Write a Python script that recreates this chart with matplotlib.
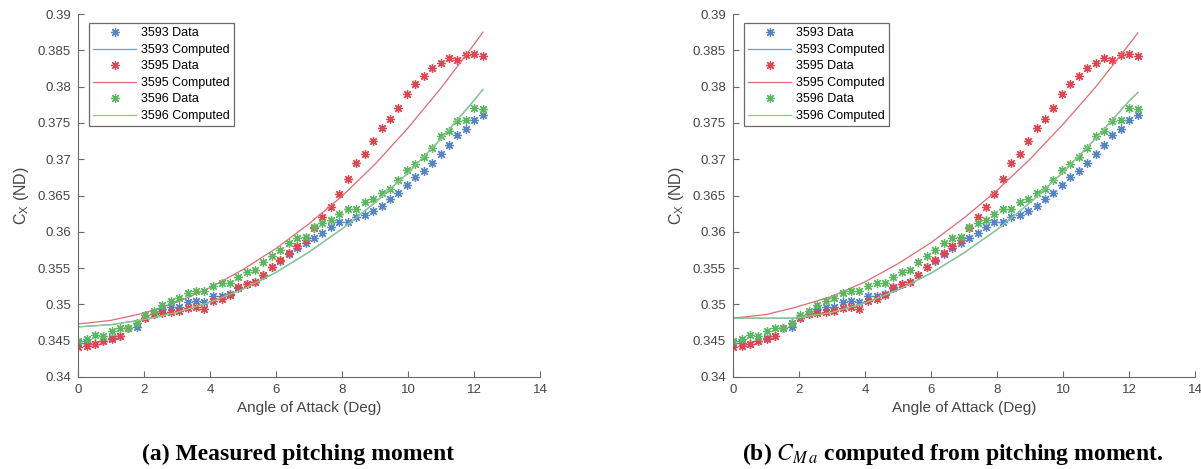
import matplotlib
matplotlib.use("Agg")
from matplotlib import pyplot as plt

plt.rcParams['font.family'] = ['Liberation Sans', 'DejaVu Sans']
plt.rcParams['mathtext.fontset'] = 'stix'

# angle of attack for the wind tunnel points (deg)
alpha = [0.00, 0.26, 0.51, 0.77, 1.02, 1.28, 1.53, 1.79, 2.04, 2.30,
         2.56, 2.81, 3.07, 3.32, 3.58, 3.83, 4.09, 4.35, 4.60, 4.86,
         5.11, 5.37, 5.62, 5.88, 6.13, 6.39, 6.65, 6.90, 7.16, 7.41,
         7.67, 7.92, 8.18, 8.43, 8.69, 8.95, 9.20, 9.46, 9.71, 9.97,
         10.22, 10.48, 10.73, 10.99, 11.25, 11.50, 11.76, 12.01, 12.27]

# measured Cx for each run
data_3593 = [0.3447, 0.3447, 0.3446, 0.3449, 0.3454, 0.3457, 0.3467, 0.3469, 0.3481, 0.3487,
             0.3493, 0.3496, 0.3497, 0.3503, 0.3505, 0.3503, 0.3511, 0.3512, 0.3515, 0.3523,
             0.3528, 0.3531, 0.3540, 0.3551, 0.3560, 0.3569, 0.3577, 0.3584, 0.3592, 0.3599,
             0.3606, 0.3613, 0.3614, 0.3620, 0.3623, 0.3628, 0.3635, 0.3645, 0.3653, 0.3664,
             0.3675, 0.3684, 0.3695, 0.3707, 0.3720, 0.3734, 0.3741, 0.3754, 0.3761]
data_3595 = [0.3441, 0.3442, 0.3445, 0.3449, 0.3452, 0.3457, 0.3468, 0.3474, 0.3481, 0.3487,
             0.3488, 0.3489, 0.3491, 0.3495, 0.3496, 0.3494, 0.3505, 0.3507, 0.3513, 0.3524,
             0.3528, 0.3531, 0.3541, 0.3551, 0.3561, 0.3571, 0.3580, 0.3589, 0.3605, 0.3620,
             0.3634, 0.3652, 0.3673, 0.3695, 0.3707, 0.3725, 0.3743, 0.3756, 0.3771, 0.3790,
             0.3803, 0.3814, 0.3826, 0.3833, 0.3840, 0.3837, 0.3843, 0.3845, 0.3842]
data_3596 = [0.3450, 0.3452, 0.3458, 0.3456, 0.3464, 0.3467, 0.3468, 0.3475, 0.3485, 0.3491,
             0.3499, 0.3505, 0.3509, 0.3516, 0.3518, 0.3518, 0.3525, 0.3530, 0.3530, 0.3538,
             0.3544, 0.3548, 0.3558, 0.3567, 0.3575, 0.3584, 0.3591, 0.3593, 0.3606, 0.3612,
             0.3616, 0.3624, 0.3632, 0.3632, 0.3641, 0.3645, 0.3653, 0.3659, 0.3671, 0.3685,
             0.3694, 0.3703, 0.3716, 0.3732, 0.3739, 0.3753, 0.3754, 0.3770, 0.3769]

# computed Cx, left plot (from measured pitching moment)
alpha_cmp_a = [0, 1, 2, 3, 4, 5, 6, 7, 8, 9, 10, 11, 12, 12.27]
cmp_a_3593 = [0.3469, 0.3472, 0.3479, 0.3489, 0.3503, 0.3521, 0.3544, 0.3572, 0.3604, 0.3640, 0.3681, 0.3728, 0.3781, 0.3796]
cmp_a_3595 = [0.3473, 0.3478, 0.3488, 0.3503, 0.3523, 0.3548, 0.3577, 0.3611, 0.3649, 0.3693, 0.3743, 0.3798, 0.3858, 0.3875]
cmp_a_3596 = [0.3469, 0.3472, 0.3479, 0.3489, 0.3503, 0.3521, 0.3544, 0.3572, 0.3604, 0.3640, 0.3681, 0.3728, 0.3781, 0.3796]

# computed Cx, right plot (from CMa)
alpha_cmp_b = [0, 1, 1.9, 3, 4, 5, 6, 7, 8, 9, 10, 11, 12, 12.27]
cmp_b_3593 = [0.3481, 0.3481, 0.3481, 0.3489, 0.3502, 0.3520, 0.3543, 0.3571, 0.3603, 0.3640, 0.3682, 0.3729, 0.3780, 0.3792]
cmp_b_3595 = [0.3481, 0.3486, 0.3496, 0.3511, 0.3531, 0.3556, 0.3585, 0.3619, 0.3657, 0.3700, 0.3748, 0.3800, 0.3858, 0.3874]
cmp_b_3596 = [0.3481, 0.3481, 0.3481, 0.3489, 0.3502, 0.3520, 0.3543, 0.3571, 0.3603, 0.3640, 0.3682, 0.3729, 0.3780, 0.3792]

xticks = [0, 2, 4, 6, 8, 10, 12, 14]
yticks = [0.34, 0.345, 0.35, 0.355, 0.36, 0.365, 0.37, 0.375, 0.38, 0.385, 0.39]
ytick_labels = ['0.34', '0.345', '0.35', '0.355', '0.36', '0.365', '0.37', '0.375', '0.38', '0.385', '0.39']

blue_pt = '#5585c6'
red_pt = '#e2454f'
green_pt = '#5cb860'
blue_ln = '#6f9ad6'
red_ln = '#e26a72'
green_ln = '#8acc8a'
axis_col = '#6a6a6a'
text_col = '#454545'

asterisk = (8, 2, 0)  # 8-spoke asterisk like matlab '*'

fig = plt.figure(figsize=(12.01, 4.69), dpi=100)
ax_a = fig.add_axes([0.0649, 0.1962, 0.3847, 0.7739])
ax_b = fig.add_axes([0.6103, 0.1962, 0.3847, 0.7739])

def draw_panel(ax, alpha_cmp, c3593, c3595, c3596):
    ax.plot(alpha, data_3593, linestyle='none', marker=asterisk, ms=6.5, mew=0.9, color=blue_pt, label='3593 Data')
    ax.plot(alpha_cmp, c3593, color=blue_ln, lw=0.9, label='3593 Computed')
    ax.plot(alpha, data_3595, linestyle='none', marker=asterisk, ms=6.5, mew=0.9, color=red_pt, label='3595 Data')
    ax.plot(alpha_cmp, c3595, color=red_ln, lw=0.9, label='3595 Computed')
    ax.plot(alpha, data_3596, linestyle='none', marker=asterisk, ms=6.5, mew=0.9, color=green_pt, label='3596 Data')
    ax.plot(alpha_cmp, c3596, color=green_ln, lw=0.9, label='3596 Computed')

    ax.set_xlim(0, 14)
    ax.set_ylim(0.34, 0.39)
    ax.set_xticks(xticks)
    ax.set_yticks(yticks)
    ax.set_yticklabels(ytick_labels)
    # matlab style "box off": only left and bottom axis lines
    ax.spines['top'].set_visible(False)
    ax.spines['right'].set_visible(False)
    ax.spines['left'].set_color(axis_col)
    ax.spines['bottom'].set_color(axis_col)
    ax.tick_params(direction='in', length=4, width=0.8, color=axis_col, labelcolor=text_col, labelsize=9.5, pad=5)
    ax.set_xlabel('Angle of Attack (Deg)', fontsize=11, color=text_col, labelpad=4)
    ax.set_ylabel(r'$\mathregular{C_X}$ (ND)', fontsize=11.5, color=text_col, labelpad=5)

    leg = ax.legend(loc='upper left', bbox_to_anchor=(0.024, 0.975), borderaxespad=0, fontsize=9,
                    fancybox=False, edgecolor=axis_col, framealpha=1, handlelength=3.4,
                    handletextpad=0.4, labelspacing=0.36, borderpad=0.35, numpoints=1)
    leg.get_frame().set_linewidth(0.9)

draw_panel(ax_a, alpha_cmp_a, cmp_a_3593, cmp_a_3595, cmp_a_3596)
draw_panel(ax_b, alpha_cmp_b, cmp_b_3593, cmp_b_3595, cmp_b_3596)

# sub-figure captions
fig.text(298 / 1201, 1 - 454 / 469, '(a) Measured pitching moment', ha='center', va='center',
         fontsize=17, fontweight='bold', family='Liberation Serif')
fig.text(953 / 1201, 1 - 454 / 469, r'(b) $C_{M\,a}$ computed from pitching moment.', ha='center', va='center',
         fontsize=17, fontweight='bold', family='Liberation Serif')

fig.savefig('out.png', dpi=100)
